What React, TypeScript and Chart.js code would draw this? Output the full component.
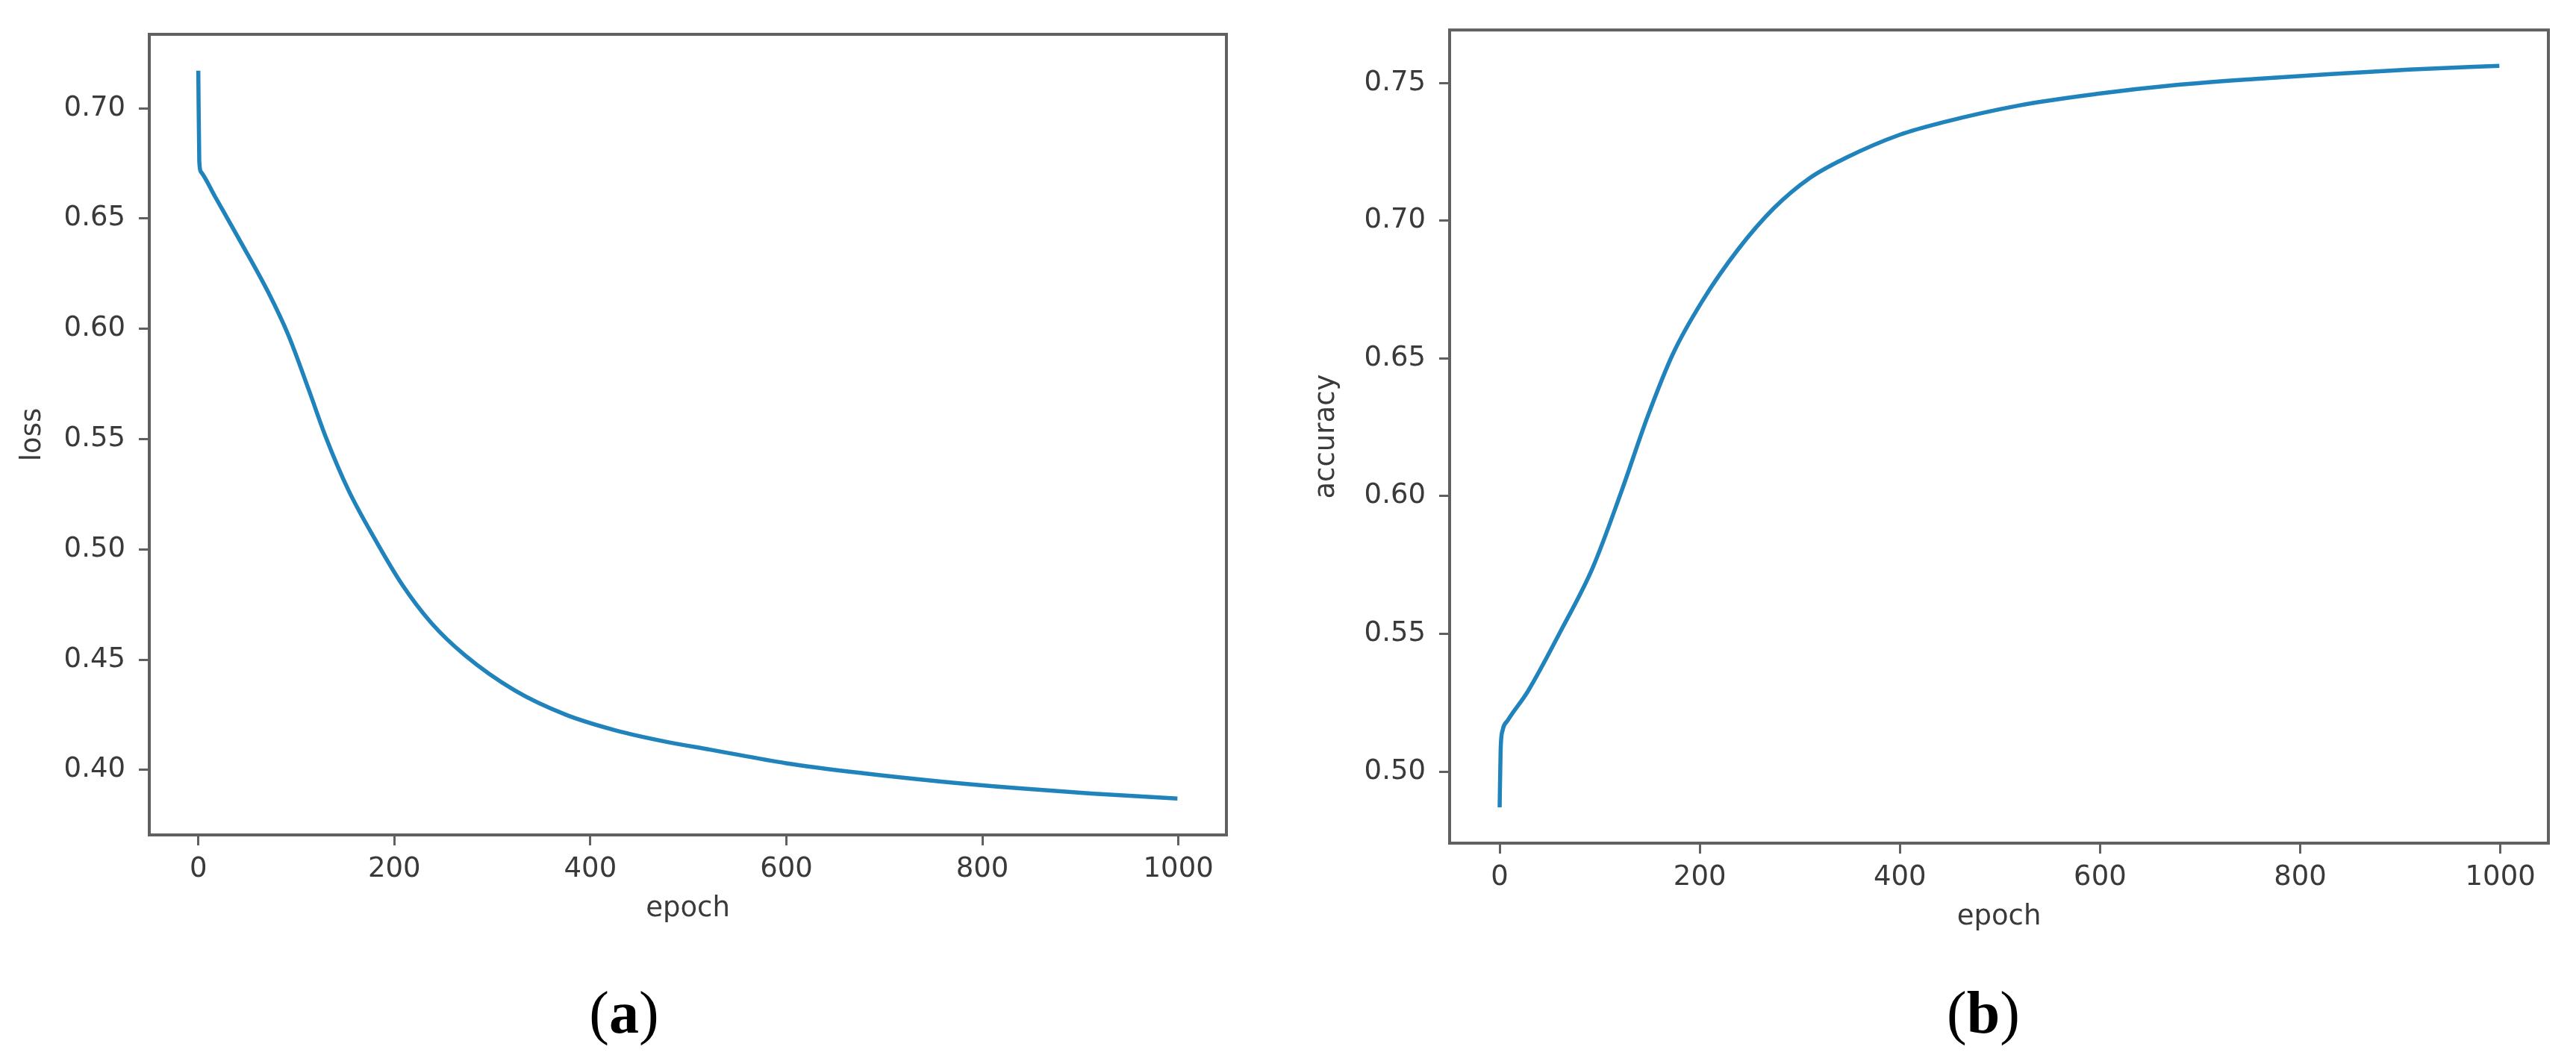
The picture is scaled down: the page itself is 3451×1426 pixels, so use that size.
import React, { useEffect, useRef } from "react";
import { Chart, registerables } from "chart.js";

Chart.register(...registerables);

// ---- data ----
const lossEpochs = [0, 1, 3, 17, 45, 72, 92, 113, 130, 153, 181, 208, 238, 272, 323, 375, 425, 480, 522, 600, 678, 756, 833, 911, 999];
const lossValues = [0.717, 0.676, 0.671, 0.66, 0.638, 0.616, 0.597, 0.572, 0.551, 0.527, 0.504, 0.484, 0.4665, 0.452, 0.436, 0.425, 0.418, 0.4125, 0.4092, 0.403, 0.3985, 0.3948, 0.3918, 0.3893, 0.387];

const accEpochs = [0, 1, 3, 8, 28, 61, 93, 122, 148, 173, 202, 238, 274, 310, 346, 400, 441, 519, 597, 675, 753, 831, 909, 999];
const accValues = [0.487, 0.508, 0.515, 0.5185, 0.529, 0.551, 0.574, 0.602, 0.629, 0.6515, 0.6705, 0.6894, 0.7045, 0.7155, 0.7228, 0.7312, 0.7355, 0.7418, 0.746, 0.7492, 0.7514, 0.7532, 0.7548, 0.7562];

const epochTicks = [0, 200, 400, 600, 800, 1000];
const lossTicks = [0.4, 0.45, 0.5, 0.55, 0.6, 0.65, 0.7];
const accTicks = [0.5, 0.55, 0.6, 0.65, 0.7, 0.75];

const xLabel = "epoch";
const lossLabel = "loss";
const accLabel = "accuracy";

// ---- styles ----
const LINE = "#2083bc";
const SPINE = "#606060";
const TEXT = "#3a3a3a";
const FONT = "'DejaVu Sans', sans-serif";
const FS = 37;

const framePlugin = {
  id: "frame",
  afterDraw(chart: any) {
    const { ctx, chartArea: a } = chart;
    ctx.save();
    ctx.strokeStyle = SPINE;
    ctx.lineWidth = 4;
    ctx.strokeRect(a.left, a.top, a.right - a.left, a.bottom - a.top);
    ctx.restore();
  },
};

type Panel = {
  xs: number[];
  ys: number[];
  yTicks: number[];
  yLabel: string;
  xMin: number;
  xMax: number;
  yMin: number;
  yMax: number;
  width: number;
  height: number;
  padTop: number;
  padRight: number;
  padBottom: number;
  yAxisWidth: number;
  xAxisHeight: number;
  yTitlePad: number;
};

function makeConfig(p: Panel): any {
  const tickGrid = {
    display: true,
    drawOnChartArea: false,
    drawTicks: true,
    tickLength: 14,
    tickWidth: 3,
    tickColor: SPINE,
  };
  return {
    type: "line",
    data: {
      datasets: [
        {
          data: p.xs.map((x, i) => ({ x, y: p.ys[i] })),
          borderColor: LINE,
          borderWidth: 5.5,
          pointRadius: 0,
          fill: false,
          cubicInterpolationMode: "monotone",
        },
      ],
    },
    options: {
      animation: false,
      responsive: false,
      maintainAspectRatio: false,
      events: [],
      layout: {
        padding: { left: 0, top: p.padTop, right: p.padRight, bottom: p.padBottom },
      },
      plugins: {
        legend: { display: false },
        tooltip: { enabled: false },
        title: { display: false },
      },
      scales: {
        x: {
          type: "linear",
          min: p.xMin,
          max: p.xMax,
          afterFit: (s: any) => {
            s.height = p.xAxisHeight;
          },
          afterBuildTicks: (s: any) => {
            s.ticks = epochTicks.map((v) => ({ value: v }));
          },
          grid: tickGrid,
          border: { display: false },
          ticks: {
            font: { family: FONT, size: FS },
            color: TEXT,
            padding: 10,
            maxRotation: 0,
            autoSkip: false,
            callback: (v: any) => String(v),
          },
          title: {
            display: true,
            text: xLabel,
            font: { family: FONT, size: FS },
            color: TEXT,
            padding: { top: 0, bottom: 0 },
          },
        },
        y: {
          type: "linear",
          min: p.yMin,
          max: p.yMax,
          afterFit: (s: any) => {
            s.width = p.yAxisWidth;
          },
          afterBuildTicks: (s: any) => {
            s.ticks = p.yTicks.map((v) => ({ value: v }));
          },
          grid: tickGrid,
          border: { display: false },
          ticks: {
            font: { family: FONT, size: FS },
            color: TEXT,
            padding: 18,
            autoSkip: false,
            callback: (v: any) => Number(v).toFixed(2),
          },
          title: {
            display: true,
            text: p.yLabel,
            font: { family: FONT, size: FS },
            color: TEXT,
            padding: { top: p.yTitlePad, bottom: 0 },
          },
        },
      },
    },
    plugins: [framePlugin],
  };
}

function ChartPanel({ panel, left }: { panel: Panel; left: number }) {
  const ref = useRef<HTMLCanvasElement | null>(null);
  useEffect(() => {
    if (!ref.current) return;
    const chart = new Chart(ref.current, makeConfig(panel));
    return () => chart.destroy();
  }, []);
  return (
    <canvas
      ref={ref}
      width={panel.width}
      height={panel.height}
      style={{ position: "absolute", left, top: 0, width: panel.width, height: panel.height }}
    />
  );
}

const H = 1426;

const lossPanel: Panel = {
  xs: lossEpochs,
  ys: lossValues,
  yTicks: lossTicks,
  yLabel: lossLabel,
  xMin: -50,
  xMax: 1049,
  yMin: 0.3705,
  yMax: 0.7335,
  width: 1720,
  height: H,
  padTop: 46,
  padRight: 1720 - 1643,
  padBottom: H - 1119 - 122,
  yAxisWidth: 200,
  xAxisHeight: 122,
  yTitlePad: 22,
};

const accPanel: Panel = {
  xs: accEpochs,
  ys: accValues,
  yTicks: accTicks,
  yLabel: accLabel,
  xMin: -50,
  xMax: 1048,
  yMin: 0.474,
  yMax: 0.7692,
  width: 3451 - 1740,
  height: H,
  padTop: 36,
  padRight: 3451 - 1740 - (3414 - 1740),
  padBottom: H - 1130 - 122,
  yAxisWidth: 1942 - 1740,
  xAxisHeight: 122,
  yTitlePad: 15,
};

const capStyle: React.CSSProperties = {
  position: "absolute",
  top: 1357,
  transform: "translate(-50%, -50%)",
  fontFamily: "'Liberation Serif', 'Times New Roman', serif",
  fontSize: 80,
  lineHeight: 1,
  color: "#000",
  whiteSpace: "nowrap",
};

export default function App() {
  return (
    <div
      style={{
        position: "absolute",
        left: 0,
        top: 0,
        width: 3451,
        height: H,
        background: "#fff",
        overflow: "hidden",
      }}
    >
      <ChartPanel panel={lossPanel} left={0} />
      <ChartPanel panel={accPanel} left={1740} />
      <div style={{ ...capStyle, left: 836 }}>
        (<b>a</b>)
      </div>
      <div style={{ ...capStyle, left: 2657 }}>
        (<b>b</b>)
      </div>
    </div>
  );
}
